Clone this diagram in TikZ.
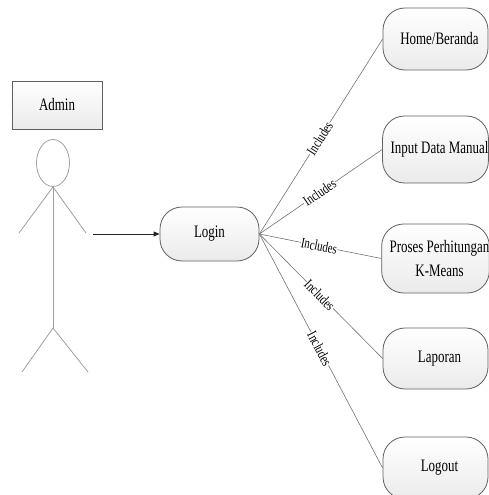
\documentclass[tikz,border=0pt]{standalone}
\usepackage{fontspec}
\setmainfont[FakeStretch=0.74]{Liberation Serif}
\usetikzlibrary{arrows.meta,shapes.geometric}
\tikzset{
  uc/.style={draw=gray!75!black, line width=0.8pt, rounded corners=22pt, top color=white, bottom color=gray!16, minimum width=105pt, inner sep=0pt, align=center, font=\fontsize{17.5}{24}\selectfont},
  actorbox/.style={draw=gray!75!black, line width=0.8pt, top color=white, bottom color=gray!16, minimum width=90pt, minimum height=48pt, inner sep=0pt, font=\fontsize{17.5}{24}\selectfont},
  conn/.style={draw=black!55, line width=0.6pt},
  inc/.style={pos=0.49, sloped, fill=white, inner sep=0.5pt, font=\fontsize{14.5}{16}\selectfont},
  stick/.style={draw=gray!75, line width=0.8pt},
}
\begin{document}
\begin{tikzpicture}[x=1pt,y=-1pt]
\useasboundingbox (0,0) rectangle (489,495);
\clip (0,0) rectangle (489,495);
% actor
\node[actorbox] (admin) at (57,105) {Admin};
\node[stick, ellipse, minimum width=33pt, minimum height=47pt, inner sep=0pt, fill=white] (head) at (53,163) {};
\coordinate (hip) at (53,328);
\coordinate (lh) at (19,233);
\coordinate (rh) at (86,233);
\coordinate (lf) at (22,372);
\coordinate (rf) at (88,372);
\draw[stick] (lh) -- (head.south) -- (rh);
\draw[stick] (head.south) -- (hip);
\draw[stick] (lf) -- (hip) -- (rf);
% login
\node[uc, minimum width=99pt, minimum height=54pt] (login) at (209.5,234) {Login};
\coordinate (start) at (93,234);
\draw[draw=gray!30!black, line width=0.8pt, -{Triangle[length=6pt,width=5pt]}] (start) -- (login.west);
% use cases
\node[uc, minimum height=62pt] (home) at (435.5,39) {\hspace*{8pt}Home/Beranda};
\node[uc, minimum height=67pt] (input) at (435.5,149.5) {\hspace*{8pt}Input Data Manual};
\node[uc, minimum height=69pt] (proses) at (435.5,258.5) {\hspace*{8pt}Proses Perhitungan\\\hspace*{8pt}K-Means};
\node[uc, minimum height=61pt] (lap) at (435.5,358.5) {\hspace*{8pt}Laporan};
\node[uc, minimum height=62pt] (logout) at (435.5,468) {\hspace*{8pt}Logout};
\foreach \t in {home,input,proses,lap,logout}
  \draw[conn] (login.east) -- node[inc] {Includes} (\t.west);
\end{tikzpicture}
\end{document}
